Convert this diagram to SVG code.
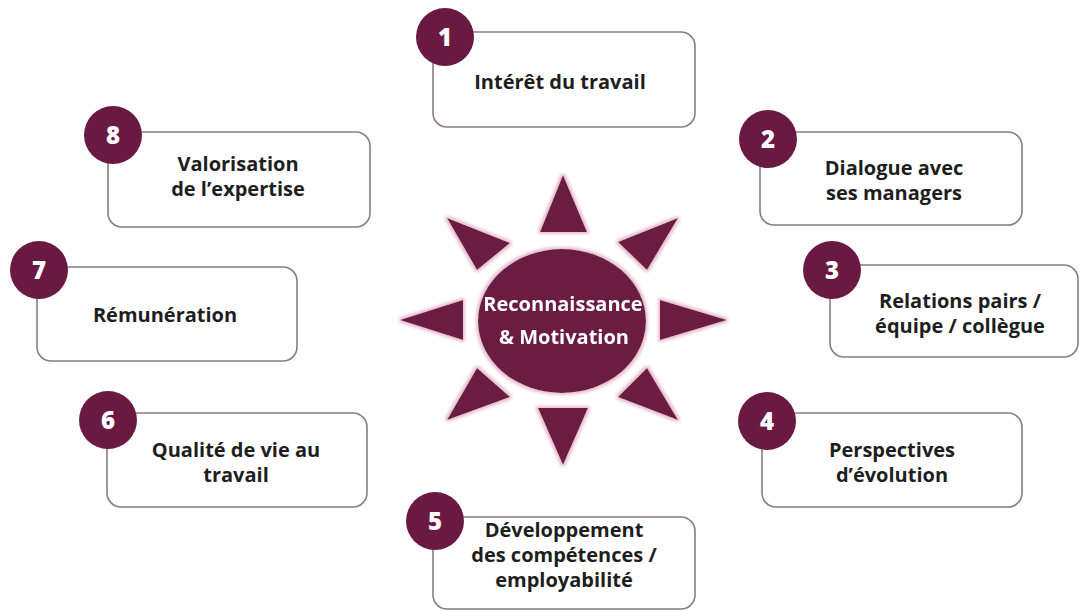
<svg xmlns="http://www.w3.org/2000/svg" width="1080" height="612" viewBox="0 0 1080 612">
  <defs>
    <style>
      .box { fill: #ffffff; stroke: #8a7c84; stroke-width: 1.6; }
      .badge { fill: #6a1a42; }
      .num { fill: #ffffff; font-family: "Open Sans", "Liberation Sans", sans-serif; font-weight: 800; font-size: 24px; text-anchor: middle; }
      .lbl { fill: #1e1e1e; font-family: "Open Sans", "Liberation Sans", sans-serif; font-weight: 700; font-size: 20px; text-anchor: middle; }
      .sun { fill: #6a1a42; }
      .hub { fill: #ffffff; font-family: "Open Sans", "Liberation Sans", sans-serif; font-weight: 700; font-size: 20px; text-anchor: middle; }
    </style>
    <!-- soft pink rim around the sun shapes -->
    <filter id="halo" x="-20%" y="-20%" width="140%" height="140%">
      <feMorphology in="SourceAlpha" operator="dilate" radius="1.5" result="grow"/>
      <feGaussianBlur in="grow" stdDeviation="1.6" result="soft"/>
      <feFlood flood-color="#e9bfd0"/>
      <feComposite in2="soft" operator="in" result="rim"/>
      <feMerge>
        <feMergeNode in="rim"/>
        <feMergeNode in="SourceGraphic"/>
      </feMerge>
    </filter>
  </defs>

  <rect width="1080" height="612" fill="#ffffff"/>

  <!-- central sun -->
  <g id="center" filter="url(#halo)">
    <g class="sun">
      <polygon points="563,175 540,232 587,232"/>
      <polygon points="563,465 538,408 588,408"/>
      <polygon points="400,320 463,300 463,340"/>
      <polygon points="727,320 660,300 660,340"/>
      <polygon points="447,218 510,243 477,270"/>
      <polygon points="678,218 618,242 647,270"/>
      <polygon points="447,420 477,368 510,397"/>
      <polygon points="678,420 647,368 618,397"/>
      <ellipse cx="562" cy="321" rx="84" ry="72"/>
    </g>
    <text class="hub" x="563" y="311">Reconnaissance</text>
    <text class="hub" x="564" y="344">&amp; Motivation</text>
  </g>

  <!-- connectors: none, the rays belong to the sun -->
  <g id="connectors"/>

  <g id="item1">
    <rect class="box" x="433" y="32" width="262" height="95" rx="14"/>
    <circle class="badge" cx="445" cy="37" r="29"/>
    <text class="num" x="445" y="46">1</text>
    <text class="lbl" x="560" y="89">Intérêt du travail</text>
  </g>

  <g id="item2">
    <rect class="box" x="760" y="132" width="262" height="93" rx="14"/>
    <circle class="badge" cx="768" cy="139" r="29"/>
    <text class="num" x="768" y="148">2</text>
    <text class="lbl" x="894" y="175">Dialogue avec</text>
    <text class="lbl" x="894" y="200">ses managers</text>
  </g>

  <g id="item3">
    <rect class="box" x="830" y="265" width="248" height="92" rx="14"/>
    <circle class="badge" cx="832" cy="270" r="29"/>
    <text class="num" x="832" y="279">3</text>
    <text class="lbl" x="960" y="308">Relations pairs /</text>
    <text class="lbl" x="960" y="333">équipe / collègue</text>
  </g>

  <g id="item4">
    <rect class="box" x="762" y="413" width="260" height="94" rx="14"/>
    <circle class="badge" cx="767" cy="421" r="29"/>
    <text class="num" x="767" y="430">4</text>
    <text class="lbl" x="892" y="457">Perspectives</text>
    <text class="lbl" x="892" y="482">d’évolution</text>
  </g>

  <g id="item5">
    <rect class="box" x="433" y="517" width="262" height="92" rx="14"/>
    <circle class="badge" cx="435" cy="521" r="29"/>
    <text class="num" x="435" y="530">5</text>
    <text class="lbl" x="564" y="537">Développement</text>
    <text class="lbl" x="564" y="562">des compétences /</text>
    <text class="lbl" x="564" y="587">employabilité</text>
  </g>

  <g id="item6">
    <rect class="box" x="107" y="413" width="260" height="94" rx="14"/>
    <circle class="badge" cx="108" cy="420" r="29"/>
    <text class="num" x="108" y="429">6</text>
    <text class="lbl" x="236" y="457">Qualité de vie au</text>
    <text class="lbl" x="236" y="482">travail</text>
  </g>

  <g id="item7">
    <rect class="box" x="37" y="267" width="260" height="94" rx="14"/>
    <circle class="badge" cx="39" cy="270" r="29"/>
    <text class="num" x="39" y="279">7</text>
    <text class="lbl" x="165" y="322">Rémunération</text>
  </g>

  <g id="item8">
    <rect class="box" x="108" y="132" width="262" height="95" rx="14"/>
    <circle class="badge" cx="113" cy="135" r="29"/>
    <text class="num" x="113" y="144">8</text>
    <text class="lbl" x="238" y="171">Valorisation</text>
    <text class="lbl" x="238" y="196">de l’expertise</text>
  </g>
</svg>
